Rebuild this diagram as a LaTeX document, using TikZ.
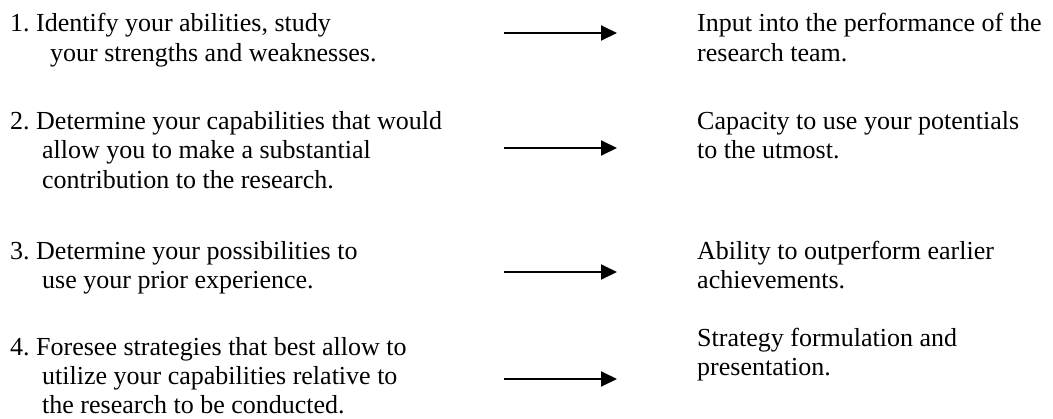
\documentclass[tikz,border=0pt]{standalone}
\usepackage{fontspec}
\setmainfont{Liberation Serif}
\usetikzlibrary{arrows.meta}
\frenchspacing
\begin{document}
\begin{tikzpicture}[x=1pt,y=-1pt,
  txt/.style={anchor=base west,inner sep=0pt,font=\fontsize{26}{30}\selectfont},
  arr/.style={line width=1.9pt,-{Triangle[length=16pt,width=15pt]}}]
\useasboundingbox (0,0) rectangle (1053,418);
% left column
\node[txt] (l1a) at (10,31) {1. Identify your abilities, study};
\node[txt] (l1b) at (50,61) {your strengths and weaknesses.};
\node[txt] (l2a) at (10,129) {2. Determine your capabilities that would};
\node[txt] (l2b) at (42,158) {allow you to make a substantial};
\node[txt] (l2c) at (42,188) {contribution to the research.};
\node[txt] (l3a) at (10,259) {3. Determine your possibilities to};
\node[txt] (l3b) at (42,288) {use your prior experience.};
\node[txt] (l4a) at (10,355) {4. Foresee strategies that best allow to};
\node[txt] (l4b) at (42,384) {utilize your capabilities relative to};
\node[txt] (l4c) at (42,413) {the research to be conducted.};
% right column
\node[txt] (r1a) at (697,31) {Input into the performance of the};
\node[txt] (r1b) at (697,61) {research team.};
\node[txt] (r2a) at (697,129) {Capacity to use your potentials};
\node[txt] (r2b) at (697,158) {to the utmost.};
\node[txt] (r3a) at (697,259) {Ability to outperform earlier};
\node[txt] (r3b) at (697,288) {achievements.};
\node[txt] (r4a) at (697,346) {Strategy formulation and};
\node[txt] (r4b) at (697,375) {presentation.};
% arrows
\coordinate (a1s) at (504,33);  \coordinate (a1e) at (617,33);
\coordinate (a2s) at (504,148); \coordinate (a2e) at (617,148);
\coordinate (a3s) at (504,272); \coordinate (a3e) at (617,272);
\coordinate (a4s) at (504,379); \coordinate (a4e) at (617,379);
\draw[arr] (a1s) -- (a1e);
\draw[arr] (a2s) -- (a2e);
\draw[arr] (a3s) -- (a3e);
\draw[arr] (a4s) -- (a4e);
\end{tikzpicture}
\end{document}
